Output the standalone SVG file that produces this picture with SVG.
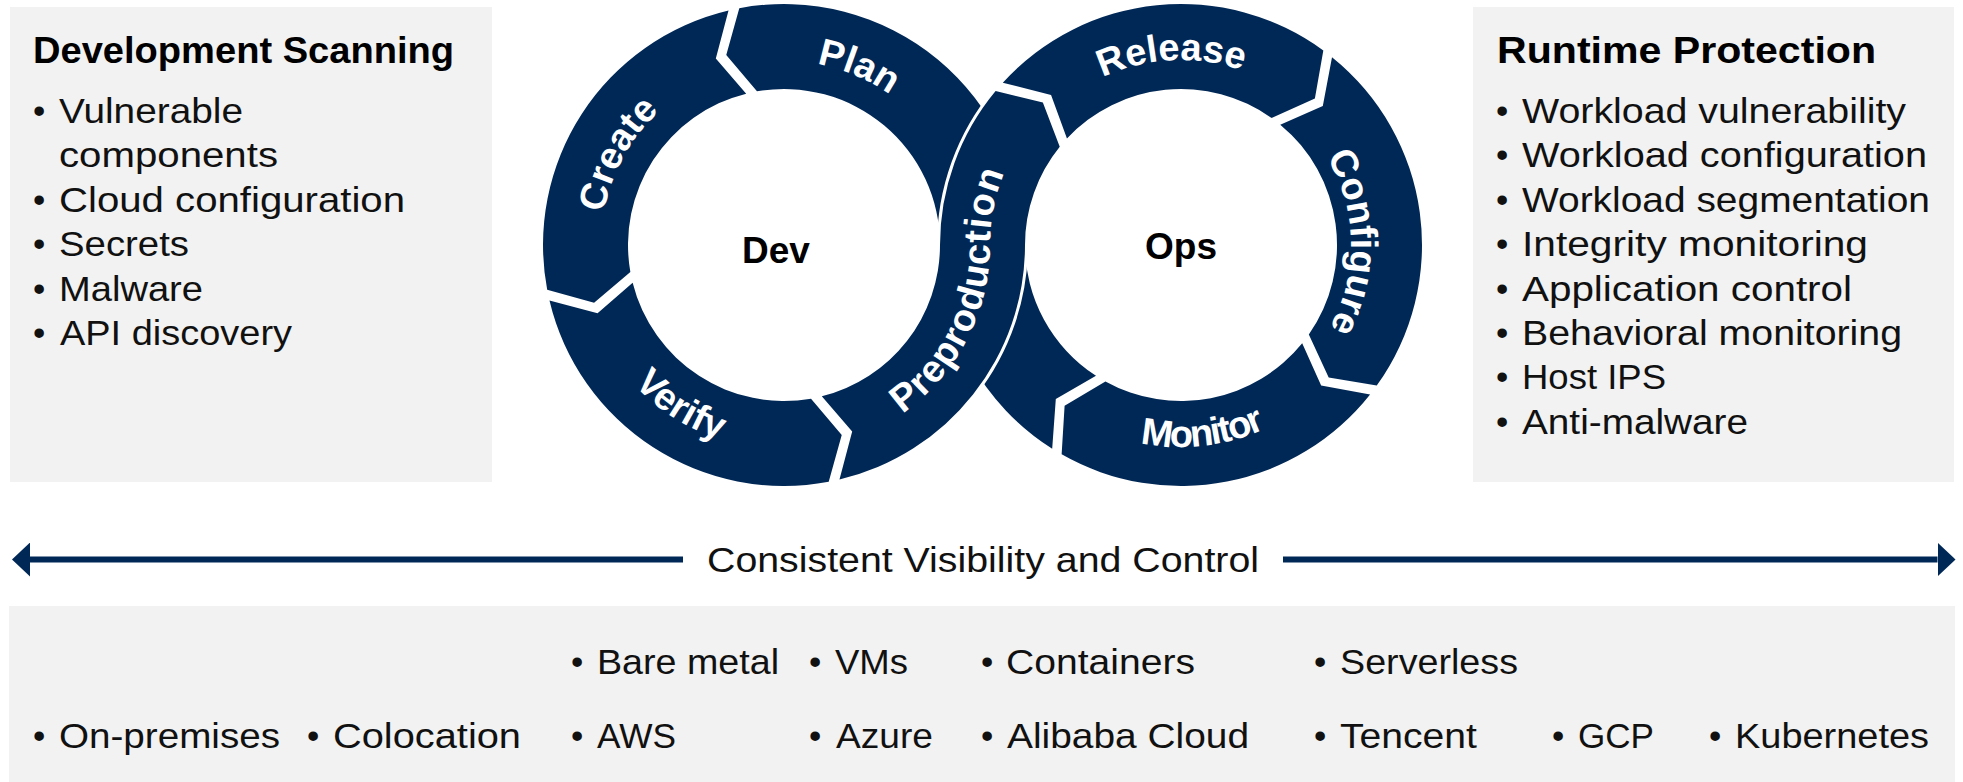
<svg xmlns="http://www.w3.org/2000/svg" width="1963" height="782" viewBox="0 0 1963 782">
<defs>
<style>
.box{fill:#f2f2f2}
.t{font-family:"Liberation Sans",Arial,sans-serif;font-size:35px;fill:#111}
.h{font-family:"Liberation Sans",Arial,sans-serif;font-size:36px;font-weight:bold;fill:#000}
.seg{fill:#002856}
.pre{fill:#002856;stroke:#fff;stroke-width:6;paint-order:stroke}
.lbl{font-family:"Liberation Sans",Arial,sans-serif;font-weight:bold;font-size:38px;fill:#fff}
.ctr{font-family:"Liberation Sans",Arial,sans-serif;font-weight:bold;font-size:37px;fill:#000;text-anchor:middle}
.arr{stroke:#002856;stroke-width:6;fill:none}
</style>
<marker id="ah" markerUnits="userSpaceOnUse" viewBox="0 0 18 34" markerWidth="18" markerHeight="34" refX="0" refY="17" orient="auto">
<path d="M0,0 L18,17 L0,34 Z" fill="#002856"/>
</marker>
<path id="pPlan" d="M672.50,98.63 A184 184 0 0 1 966.51,221.61"/>
<path id="pCreate" d="M627.79,340.34 A183 183 0 0 1 779.53,62.05"/>
<path id="pVerify" d="M579.23,235.34 A205 205 0 0 0 878.01,427.16"/>
<path id="pPre" d="M837.31,443.98 A206 206 0 0 0 990,245 A191 191 0 0 1 1045.94,109.94"/>
<path id="pRelease" d="M1016.31,160.73 A185 185 0 0 1 1336.33,144.51"/>
<path id="pConfigure" d="M1263.42,96.32 A170 170 0 0 1 1268.55,390.72"/>
<path id="pMonitor" d="M1018.17,364.58 A202 202 0 0 0 1365.97,326.18"/>
</defs>

<rect width="1963" height="782" fill="#fff"/>

<g id="development-scanning">
<rect class="box" x="10" y="7" width="482" height="475"/>
<text class="h" x="33" y="63" textLength="421" lengthAdjust="spacingAndGlyphs">Development Scanning</text>
<text class="t" x="33" y="123">•</text>
<text class="t" x="59" y="123" textLength="184" lengthAdjust="spacingAndGlyphs">Vulnerable</text>
<text class="t" x="59" y="167" textLength="219" lengthAdjust="spacingAndGlyphs">components</text>
<text class="t" x="33" y="212">•</text>
<text class="t" x="59" y="212" textLength="346" lengthAdjust="spacingAndGlyphs">Cloud configuration</text>
<text class="t" x="33" y="256">•</text>
<text class="t" x="59" y="256" textLength="130" lengthAdjust="spacingAndGlyphs">Secrets</text>
<text class="t" x="33" y="300.5">•</text>
<text class="t" x="59" y="300.5" textLength="144" lengthAdjust="spacingAndGlyphs">Malware</text>
<text class="t" x="33" y="345">•</text>
<text class="t" x="60" y="345" textLength="232" lengthAdjust="spacingAndGlyphs">API discovery</text>
</g>

<g id="runtime-protection">
<rect class="box" x="1473" y="7" width="481" height="475"/>
<text class="h" x="1497" y="63" textLength="379" lengthAdjust="spacingAndGlyphs">Runtime Protection</text>
<text class="t" x="1496" y="123">•</text>
<text class="t" x="1522" y="123" textLength="384" lengthAdjust="spacingAndGlyphs">Workload vulnerability</text>
<text class="t" x="1496" y="167">•</text>
<text class="t" x="1522" y="167" textLength="405" lengthAdjust="spacingAndGlyphs">Workload configuration</text>
<text class="t" x="1496" y="211.5">•</text>
<text class="t" x="1522" y="211.5" textLength="408" lengthAdjust="spacingAndGlyphs">Workload segmentation</text>
<text class="t" x="1496" y="256">•</text>
<text class="t" x="1522" y="256" textLength="346" lengthAdjust="spacingAndGlyphs">Integrity monitoring</text>
<text class="t" x="1496" y="300.5">•</text>
<text class="t" x="1522" y="300.5" textLength="330" lengthAdjust="spacingAndGlyphs">Application control</text>
<text class="t" x="1496" y="345">•</text>
<text class="t" x="1522" y="345" textLength="380" lengthAdjust="spacingAndGlyphs">Behavioral monitoring</text>
<text class="t" x="1496" y="389">•</text>
<text class="t" x="1522" y="389" textLength="144" lengthAdjust="spacingAndGlyphs">Host IPS</text>
<text class="t" x="1496" y="433.5">•</text>
<text class="t" x="1522" y="433.5" textLength="226" lengthAdjust="spacingAndGlyphs">Anti-malware</text>
</g>

<g id="devops-loop">
<g id="seg-plan">
<path class="seg" d="M1052.19,448.69 A241 241 0 0 1 940,245 A156 156 0 0 0 756.97,91.36 L726.26,55.08 L739.29,8.19 A241 241 0 0 1 1025,245 A156 156 0 0 0 1096.01,375.82 L1055.81,399.04 Z"/>
<text class="lbl"><textPath href="#pPlan" startOffset="50%" text-anchor="middle">Plan</textPath></text>
</g>
<g id="seg-create">
<path class="seg" d="M728.52,10.48 A241 241 0 0 0 547.19,289.71 L594.08,302.74 L630.36,272.03 A156 156 0 0 1 746.20,93.65 L715.82,58.57 Z"/>
<text class="lbl"><textPath href="#pCreate" startOffset="50%" text-anchor="middle">Create</textPath></text>
</g>
<g id="seg-verify">
<path class="seg" d="M549.48,300.48 A241 241 0 0 0 828.71,481.81 L841.74,434.92 L811.03,398.64 A156 156 0 0 1 632.65,282.80 L597.57,313.18 Z"/>
<text class="lbl"><textPath href="#pVerify" startOffset="50%" text-anchor="middle">Verify</textPath></text>
</g>
<g id="seg-release">
<path class="seg" d="M1002.80,82.76 A241 241 0 0 1 1323.33,50.51 L1314.89,98.45 L1271.57,117.98 A156 156 0 0 0 1066.95,138.56 L1051.06,94.93 Z"/>
<text class="lbl"><textPath href="#pRelease" startOffset="50%" text-anchor="middle">Release</textPath></text>
</g>
<g id="seg-configure">
<path class="seg" d="M1332.01,57.19 A241 241 0 0 1 1376.74,385.60 L1328.70,377.60 L1308.83,334.43 A156 156 0 0 0 1280.25,124.63 L1322.81,106.11 Z"/>
<text class="lbl"><textPath href="#pConfigure" startOffset="50%" text-anchor="middle">Configure</textPath></text>
</g>
<g id="seg-monitor">
<path class="seg" d="M1370.09,394.42 A241 241 0 0 1 1061.63,454.36 L1064.60,405.79 L1105.42,381.47 A156 156 0 0 0 1302.20,343.22 L1321.14,385.58 Z"/>
<text class="lbl" letter-spacing="-1.8"><textPath href="#pMonitor" startOffset="50%" text-anchor="middle">Monitor</textPath></text>
</g>
<g id="seg-preproduction">
<path class="pre" d="M839.48,479.52 A241 241 0 0 0 1025,245 A156 156 0 0 1 1059.74,146.86 L1042.86,102.46 L995.60,91.07 A241 241 0 0 0 940,245 A156 156 0 0 1 821.80,396.35 L852.18,431.43 Z"/>
<text class="lbl" letter-spacing="1"><textPath href="#pPre" startOffset="208.5" text-anchor="middle">Preproduction</textPath></text>
</g>
<g id="dev"><text class="ctr" x="776" y="263">Dev</text></g>
<g id="ops"><text class="ctr" x="1181" y="259">Ops</text></g>
</g>

<g id="connectors">
<line class="arr" x1="683" y1="559.5" x2="30" y2="559.5" marker-end="url(#ah)"/>
<line class="arr" x1="1283" y1="559.5" x2="1937.5" y2="559.5" marker-end="url(#ah)"/>
</g>
<g id="visibility-label">
<text class="t" x="707" y="572" textLength="552" lengthAdjust="spacingAndGlyphs">Consistent Visibility and Control</text>
</g>

<g id="environments">
<rect class="box" x="9" y="606" width="1946" height="176"/>
<text class="t" x="571" y="674">•</text>
<text class="t" x="597" y="674" textLength="182" lengthAdjust="spacingAndGlyphs">Bare metal</text>
<text class="t" x="809" y="674">•</text>
<text class="t" x="835" y="674" textLength="73" lengthAdjust="spacingAndGlyphs">VMs</text>
<text class="t" x="981" y="674">•</text>
<text class="t" x="1006" y="674" textLength="189" lengthAdjust="spacingAndGlyphs">Containers</text>
<text class="t" x="1314" y="674">•</text>
<text class="t" x="1340" y="674" textLength="178" lengthAdjust="spacingAndGlyphs">Serverless</text>

<text class="t" x="33" y="748">•</text>
<text class="t" x="59" y="748" textLength="221" lengthAdjust="spacingAndGlyphs">On-premises</text>
<text class="t" x="307" y="748">•</text>
<text class="t" x="333" y="748" textLength="188" lengthAdjust="spacingAndGlyphs">Colocation</text>
<text class="t" x="571" y="748">•</text>
<text class="t" x="597" y="748" textLength="79" lengthAdjust="spacingAndGlyphs">AWS</text>
<text class="t" x="809" y="748">•</text>
<text class="t" x="836" y="748" textLength="97" lengthAdjust="spacingAndGlyphs">Azure</text>
<text class="t" x="981" y="748">•</text>
<text class="t" x="1007" y="748" textLength="242" lengthAdjust="spacingAndGlyphs">Alibaba Cloud</text>
<text class="t" x="1314" y="748">•</text>
<text class="t" x="1340" y="748" textLength="137" lengthAdjust="spacingAndGlyphs">Tencent</text>
<text class="t" x="1552" y="748">•</text>
<text class="t" x="1578" y="748" textLength="76" lengthAdjust="spacingAndGlyphs">GCP</text>
<text class="t" x="1709" y="748">•</text>
<text class="t" x="1735" y="748" textLength="194" lengthAdjust="spacingAndGlyphs">Kubernetes</text>
</g>
</svg>
